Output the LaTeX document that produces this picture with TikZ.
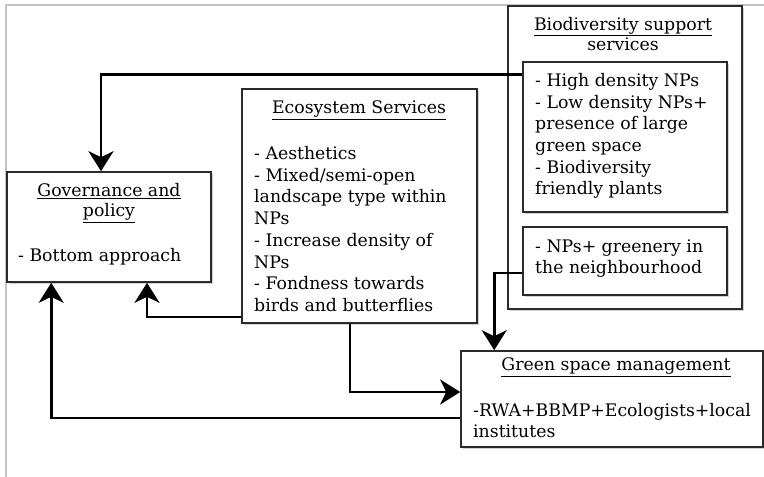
\documentclass[tikz,border=0pt]{standalone}
\usepackage{fontspec}
\setmainfont{DejaVu Serif}
\usepackage{tikz}
\usetikzlibrary{arrows.meta,positioning,calc,shadows}
\definecolor{edge}{HTML}{2B2B2B}
\definecolor{frm}{HTML}{C4C4C4}
\tikzset{
  >={Stealth[length=20pt,width=25pt,inset=6pt]},
  box/.style={draw=edge,line width=1.6pt,fill=white,inner sep=0pt,
    drop shadow={shadow xshift=1.5pt,shadow yshift=-1.5pt,opacity=0.35}},
  ttl/.style={font=\fontsize{17.3}{20.5}\selectfont,align=center,inner sep=0pt},
  txt/.style={font=\fontsize{17.3}{21.7}\selectfont,align=left,inner sep=0pt,anchor=west},
  arr/.style={->,draw=black,line width=2.6pt},
}

\begin{document}
\begin{tikzpicture}[x=1pt,y=-1pt]
\useasboundingbox (0,0) rectangle (764,477);
% page frame
\draw[frm,line width=1.5pt] (764,5) -- (6,5) -- (6,477);

% boxes
\node[box,minimum width=204pt,minimum height=110pt] (gov) at (109,227) {};
\node[box,minimum width=235pt,minimum height=234pt] (eco) at (359.5,206) {};
\node[box,minimum width=234pt,minimum height=303pt] (bio) at (625,157.5) {};
\node[box,minimum width=204pt,minimum height=150pt] (bioA) at (625,137) {};
\node[box,minimum width=204pt,minimum height=68pt] (bioB) at (625,261) {};
\node[box,minimum width=302pt,minimum height=96pt] (gsm) at (612,399) {};

% texts
\node[ttl] (govT) at (109,203) {\underline{Governance and}\\\underline{policy}};
\node[txt] (govL) at (18,257) {- Bottom approach};
\node[ttl] (ecoT) at (359,110) {\underline{Ecosystem Services}};
\node[txt] (ecoL) at (254,229) {- Aesthetics\\- Mixed/semi-open\\landscape type within\\NPs\\- Increase density of\\NPs\\- Fondness towards\\birds and butterflies};
\node[ttl] (bioT) at (623,34) {\underline{Biodiversity support}\\services};
\node[txt] (bioAL) at (535,136) {- High density NPs\\- Low density NPs+\\presence of large\\green space\\- Biodiversity\\friendly plants};
\node[txt] (bioBL) at (535,258.5) {- NPs+ greenery in\\the neighbourhood};
\node[ttl] (gsmT) at (616,367) {\underline{Green space management}};
\node[txt] (gsmL) at (473,420.5) {-RWA+BBMP+Ecologists+local\\institutes};

% connectors
\draw[arr] ($(bioA.north west)+(0,13)$) -| ($(gov.north)+(-8,0)$);
\draw[arr] ($(eco.south west)+(0,-7)$) -| ($(gov.south)+(38,0)$);
\draw[arr] ($(gsm.west)+(0,19)$) -| ($(gov.south west)+(45,0)$);
\draw[arr] ($(eco.south)+(-9.5,0)$) |- ($(gsm.west)+(0,-7)$);
\draw[arr] ($(bioB.west)+(0,12)$) -| ($(gsm.north west)+(34,0)$);
\end{tikzpicture}
\end{document}
